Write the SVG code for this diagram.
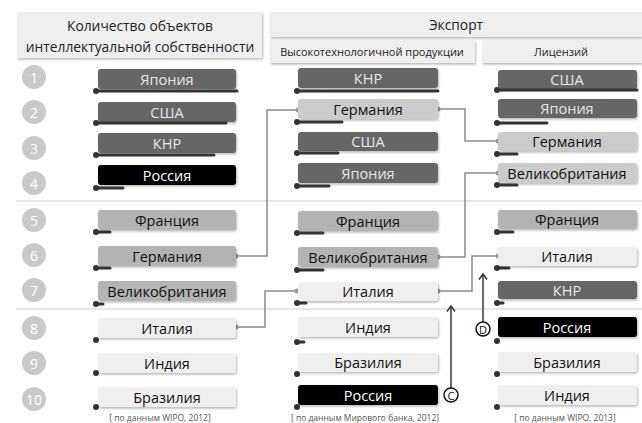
<svg xmlns="http://www.w3.org/2000/svg" width="642" height="423" viewBox="0 0 642 423">
<defs>
<filter id="sh" x="-10%" y="-30%" width="130%" height="180%">
<feDropShadow dx="1" dy="1.5" stdDeviation="1.2" flood-color="#000" flood-opacity="0.28"/>
</filter>
</defs>
<style>
text{font-family:"Open Sans","Noto Sans","Liberation Sans",sans-serif;text-anchor:middle;dominant-baseline:central}
.hd{fill:#efefef;filter:url(#sh)}
.ht{font-size:13.8px;fill:#222}
.st{font-size:11px;fill:#222}
.num{fill:#c9c9c9}
.nt{font-size:14px;fill:#fff}
.b{filter:url(#sh)}
.dk{fill:#666}
.bk{fill:#000}
.md{fill:#b3b3b3}
.lt{fill:#cbcbcb}
.wh{fill:#efefef}
.bt{font-size:14.5px;fill:#111}
.wt{font-size:14.5px;fill:#e6e6e6}
.bar{stroke:#333;stroke-width:3;stroke-linecap:round;fill:none}
.dot{fill:#333}
.sep{stroke:#cfcfcf;stroke-width:1.2}
.con{stroke:#8a8a8a;stroke-width:1.5;fill:none}
.cd{fill:#999}
.fn{font-size:8.5px;fill:#555}
.shaft{fill:#444}
.head{fill:none;stroke:#333;stroke-width:1.5;stroke-linejoin:miter}
.lc{fill:#fff;stroke:#111;stroke-width:1.5}
.lct{font-size:11px;fill:#111}
</style>

<g id="header">
<rect class="hd" x="17" y="12" width="245" height="46"/>
<text class="ht" x="140" y="25">Количество объектов</text>
<text class="ht" x="140" y="46">интеллектуальной собственности</text>
<rect class="hd" x="270" y="12" width="372" height="25"/>
<text class="ht" x="456" y="24">Экспорт</text>
<rect class="hd" x="270" y="40" width="205" height="23"/>
<text class="st" x="372" y="51">Высокотехнологичной продукции</text>
<rect class="hd" x="482" y="40" width="160" height="23"/>
<text class="st" x="561" y="51">Лицензий</text>
</g>

<g id="separators">
<line class="sep" x1="16" y1="201" x2="642" y2="201"/>
<line class="sep" x1="16" y1="309" x2="642" y2="309"/>
</g>

<g id="ranks">
<circle class="num" cx="34" cy="77" r="12"/><text class="nt" x="34" y="77">1</text>
<circle class="num" cx="34" cy="112" r="12"/><text class="nt" x="34" y="112">2</text>
<circle class="num" cx="34" cy="148" r="12"/><text class="nt" x="34" y="148">3</text>
<circle class="num" cx="34" cy="183" r="12"/><text class="nt" x="34" y="183">4</text>
<circle class="num" cx="34" cy="220" r="12"/><text class="nt" x="34" y="220">5</text>
<circle class="num" cx="34" cy="255" r="12"/><text class="nt" x="34" y="255">6</text>
<circle class="num" cx="34" cy="290" r="12"/><text class="nt" x="34" y="290">7</text>
<circle class="num" cx="34" cy="328" r="12"/><text class="nt" x="34" y="328">8</text>
<circle class="num" cx="34" cy="363" r="12"/><text class="nt" x="34" y="363">9</text>
<circle class="num" cx="34" cy="399" r="12"/><text class="nt" x="34" y="399">10</text>
</g>

<g id="connectors">
<polyline class="con" points="236,256 267,256 267,110 298,110"/>
<polyline class="con" points="236,327 265,327 265,291 297,291"/>
<polyline class="con" points="438,109 465,109 465,141 498,141"/>
<polyline class="con" points="438,257 465,257 465,173 498,173"/>
<polyline class="con" points="438,291 472,291 472,256 498,256"/>
<circle class="cd" cx="236" cy="256" r="2.5"/><circle class="cd" cx="298" cy="110" r="2.5"/>
<circle class="cd" cx="236" cy="327" r="2.5"/><circle class="cd" cx="297" cy="291" r="2.5"/>
<circle class="cd" cx="438" cy="109" r="2.5"/><circle class="cd" cx="498" cy="141" r="2.5"/>
<circle class="cd" cx="438" cy="257" r="2.5"/><circle class="cd" cx="498" cy="173" r="2.5"/>
<circle class="cd" cx="438" cy="291" r="2.5"/><circle class="cd" cx="498" cy="256" r="2.5"/>
<rect class="shaft" x="450.2" y="306" width="1.6" height="82"/>
<polyline class="head" points="447,311.5 451,306 455,311.5"/>
<rect class="shaft" x="482.2" y="274" width="1.6" height="48"/>
<polyline class="head" points="479,279.5 483,274 487,279.5"/>
</g>

<g id="markC"><circle class="lc" cx="451" cy="395" r="7"/><text class="lct" x="451" y="395">C</text></g>
<g id="markD"><circle class="lc" cx="483" cy="329" r="7"/><text class="lct" x="483" y="329">D</text></g>

<!-- Left column -->
<g id="l1"><rect class="b dk" x="98" y="69" width="138" height="20" rx="3"/><text class="wt" x="167" y="79">Япония</text><path class="bar" d="M97,91H237"/><circle class="dot" cx="96" cy="91" r="3"/></g>
<g id="l2"><rect class="b dk" x="98" y="102" width="138" height="20" rx="3"/><text class="wt" x="167" y="112">США</text><path class="bar" d="M97,123H226"/><circle class="dot" cx="96" cy="123" r="3"/></g>
<g id="l3"><rect class="b dk" x="98" y="133" width="138" height="20" rx="3"/><text class="wt" x="167" y="143">КНР</text><path class="bar" d="M97,155H214"/><circle class="dot" cx="96" cy="155" r="3"/></g>
<g id="l4"><rect class="b bk" x="98" y="165" width="138" height="20" rx="3"/><text class="wt" x="167" y="175" style="fill:#fff">Россия</text><path class="bar" d="M97,188H123"/><circle class="dot" cx="96" cy="188" r="3"/></g>
<g id="l5"><rect class="b md" x="98" y="210" width="138" height="20" rx="3"/><text class="bt" x="167" y="220">Франция</text><path class="bar" d="M97,232H110"/><circle class="dot" cx="96" cy="232" r="3"/></g>
<g id="l6"><rect class="b md" x="98" y="246" width="138" height="20" rx="3"/><text class="bt" x="167" y="256">Германия</text><path class="bar" d="M97,268H110"/><circle class="dot" cx="96" cy="268" r="3"/></g>
<g id="l7"><rect class="b md" x="98" y="281" width="138" height="20" rx="3"/><text class="bt" x="167" y="291">Великобритания</text><path class="bar" d="M97,304H103"/><circle class="dot" cx="96" cy="304" r="3"/></g>
<g id="l8"><rect class="b wh" x="98" y="318" width="138" height="20" rx="3"/><text class="bt" x="167" y="328">Италия</text><circle class="dot" cx="96" cy="340" r="3"/></g>
<g id="l9"><rect class="b wh" x="98" y="353" width="138" height="20" rx="3"/><text class="bt" x="167" y="363">Индия</text><circle class="dot" cx="96" cy="373" r="3"/></g>
<g id="l10"><rect class="b wh" x="98" y="387" width="138" height="20" rx="3"/><text class="bt" x="167" y="397">Бразилия</text><circle class="dot" cx="96" cy="407" r="3"/></g>
<text class="fn" x="160" y="417">[ по данным WIPO, 2012]</text>

<!-- Middle column -->
<g id="m1"><rect class="b dk" x="298" y="68" width="140" height="20" rx="3"/><text class="wt" x="368" y="78">КНР</text><path class="bar" d="M298,91H438"/><circle class="dot" cx="297" cy="91" r="3"/></g>
<g id="m2"><rect class="b lt" x="298" y="99" width="140" height="20" rx="3"/><text class="bt" x="368" y="109">Германия</text><path class="bar" d="M298,122H342"/><circle class="dot" cx="297" cy="122" r="3"/></g>
<g id="m3"><rect class="b dk" x="298" y="132" width="140" height="19" rx="3"/><text class="wt" x="368" y="141">США</text><path class="bar" d="M298,153H338"/><circle class="dot" cx="297" cy="153" r="3"/></g>
<g id="m4"><rect class="b dk" x="298" y="163" width="140" height="20" rx="3"/><text class="wt" x="368" y="173">Япония</text><path class="bar" d="M298,186H329"/><circle class="dot" cx="297" cy="186" r="3"/></g>
<g id="m5"><rect class="b md" x="298" y="211" width="140" height="20" rx="3"/><text class="bt" x="368" y="221">Франция</text><path class="bar" d="M298,233H323"/><circle class="dot" cx="297" cy="233" r="3"/></g>
<g id="m6"><rect class="b md" x="298" y="247" width="140" height="20" rx="3"/><text class="bt" x="368" y="257">Великобритания</text><path class="bar" d="M298,270H323"/><circle class="dot" cx="297" cy="270" r="3"/></g>
<g id="m7"><rect class="b wh" x="298" y="282" width="140" height="19" rx="3"/><text class="bt" x="368" y="291">Италия</text><path class="bar" d="M298,303H306"/><circle class="dot" cx="297" cy="303" r="3"/></g>
<g id="m8"><rect class="b wh" x="298" y="317" width="140" height="20" rx="3"/><text class="bt" x="368" y="327">Индия</text><path class="bar" d="M298,342H304"/><circle class="dot" cx="297" cy="342" r="3"/></g>
<g id="m9"><rect class="b wh" x="298" y="353" width="140" height="19" rx="3"/><text class="bt" x="368" y="362">Бразилия</text><circle class="dot" cx="297" cy="374" r="3"/></g>
<g id="m10"><rect class="b bk" x="298" y="385" width="140" height="20" rx="3"/><text class="wt" x="368" y="395" style="fill:#fff">Россия</text><circle class="dot" cx="297" cy="407" r="3"/></g>
<text class="fn" x="365" y="417">[ по данным Мирового банка, 2012]</text>

<!-- Right column -->
<g id="r1"><rect class="b dk" x="498" y="70" width="139" height="19" rx="3"/><text class="wt" x="567" y="79">США</text><path class="bar" d="M498,90H637"/><circle class="dot" cx="497" cy="90" r="3"/></g>
<g id="r2"><rect class="b dk" x="498" y="99" width="139" height="19" rx="3"/><text class="wt" x="567" y="108">Япония</text><path class="bar" d="M498,123H547"/><circle class="dot" cx="497" cy="123" r="3"/></g>
<g id="r3"><rect class="b lt" x="498" y="132" width="139" height="19" rx="3"/><text class="bt" x="567" y="141">Германия</text><path class="bar" d="M498,154H517"/><circle class="dot" cx="497" cy="154" r="3"/></g>
<g id="r4"><rect class="b lt" x="498" y="163" width="139" height="20" rx="3"/><text class="bt" x="567" y="173">Великобритания</text><path class="bar" d="M498,185H517"/><circle class="dot" cx="497" cy="185" r="3"/></g>
<g id="r5"><rect class="b md" x="498" y="210" width="139" height="19" rx="3"/><text class="bt" x="567" y="219">Франция</text><path class="bar" d="M498,232H513"/><circle class="dot" cx="497" cy="232" r="3"/></g>
<g id="r6"><rect class="b wh" x="498" y="247" width="139" height="19" rx="3"/><text class="bt" x="567" y="256">Италия</text><path class="bar" d="M498,268H509"/><circle class="dot" cx="497" cy="268" r="3"/></g>
<g id="r7"><rect class="b dk" x="498" y="281" width="139" height="18" rx="3"/><text class="wt" x="567" y="290">КНР</text><path class="bar" d="M498,303H503"/><circle class="dot" cx="497" cy="303" r="3"/></g>
<g id="r8"><rect class="b bk" x="498" y="317" width="139" height="20" rx="3"/><text class="wt" x="567" y="327" style="fill:#fff">Россия</text><circle class="dot" cx="497" cy="341" r="3"/></g>
<g id="r9"><rect class="b wh" x="498" y="352" width="139" height="20" rx="3"/><text class="bt" x="567" y="362">Бразилия</text><circle class="dot" cx="497" cy="374" r="3"/></g>
<g id="r10"><rect class="b wh" x="498" y="385" width="139" height="20" rx="3"/><text class="bt" x="567" y="395">Индия</text><circle class="dot" cx="497" cy="407" r="3"/></g>
<text class="fn" x="565" y="417">[ по данным WIPO, 2013]</text>
</svg>
